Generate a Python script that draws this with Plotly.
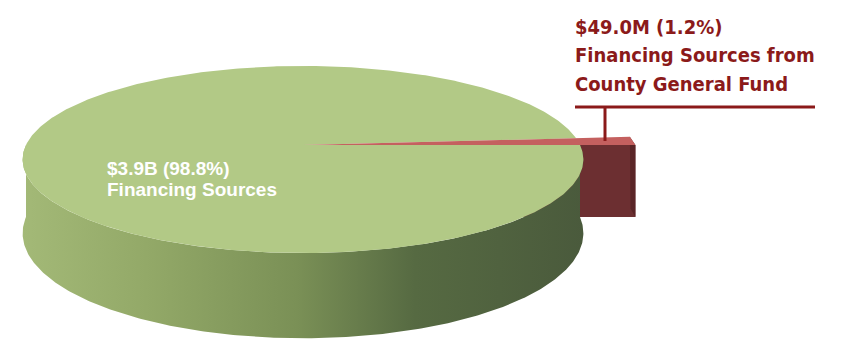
import numpy as np
import plotly.graph_objects as go

# ---------------- data ----------------
labels = ["Financing Sources", "Financing Sources from County General Fund"]
amounts = ["$3.9B", "$49.0M"]
shares = [98.8, 1.2]          # percent of total

# ---------------- geometry (pixel space, perspective 3D pie) ----------------
CX, CY = 303.0, 145.0   # projected pie centre
S, T, K = 277.0, 91.3, 0.155   # horizontal radius, vertical radius, perspective factor
DEPTH = 72.0
RED_SCALE = 1.2          # pulled-out slice radius factor


def proj(theta_deg, r=1.0, drop=0.0):
    th = np.radians(np.asarray(theta_deg, dtype=float))
    X = r * np.cos(th)
    Y = r * np.sin(th)
    w = 1 + K * Y
    return CX + S * X / w, CY - T * Y / w + drop / w


green_share, red_share = shares
a_red = red_share / 100.0 * 360.0      # red slice: 0 .. a_red degrees

fig = go.Figure()


def poly(xs, ys, color, **kw):
    fig.add_trace(go.Scatter(x=np.asarray(xs), y=np.asarray(ys), mode="lines", fill="toself",
                             fillcolor=color, line=dict(width=0, color=color),
                             hoverinfo="skip", showlegend=False, **kw))


# red slice: cut face at theta = 0 (front)
x0, y0 = proj(0, 0.0, 0)
x1, y1 = proj(0, RED_SCALE, 0)
x2, y2 = proj(0, RED_SCALE, DEPTH)
x3, y3 = proj(0, 0.0, DEPTH)
poly([x0, x1, x2, x3, x0], [y0, y1, y2, y3, y0], "#6c2f31")

# red slice outer wall
th = np.linspace(0, a_red, 30)
xt, yt = proj(th, RED_SCALE, 0)
xb, yb = proj(th[::-1], RED_SCALE, DEPTH)
poly(np.r_[xt, xb, xt[0]], np.r_[yt, yb, yt[0]], "#5a2527")

# green side wall (front half)
th = np.linspace(180, 360, 300)
xt, yt = proj(th, 1.0, 0)
xb, yb = proj(th[::-1], 1.0, DEPTH)
fig.add_trace(go.Scatter(
    x=np.r_[xt, xb, xt[0]], y=np.r_[yt, yb, yt[0]], mode="lines", fill="toself",
    fillgradient=dict(type="horizontal",
                      colorscale=[[0, "#a3b977"], [0.22, "#93a968"], [0.49, "#7a9056"],
                                  [0.7, "#566a42"], [1, "#4a5a3c"]]),
    line=dict(width=0), hoverinfo="skip", showlegend=False))

# green top face
th = np.linspace(a_red, 360, 500)
xt, yt = proj(th, 1.0, 0)
poly(np.r_[x0, xt, x0], np.r_[y0, yt, y0], "#b2c986")

# red top face
th = np.linspace(0, a_red, 30)
xt, yt = proj(th, RED_SCALE, 0)
poly(np.r_[x0, xt, x0], np.r_[y0, yt, y0], "#c4605f")

# leader line for small slice
RED_TXT = "#8b1a1a"
fig.add_shape(type="line", x0=575, x1=815, y0=107, y1=107, line=dict(color=RED_TXT, width=3))
fig.add_shape(type="line", x0=605, x1=605, y0=107, y1=141, line=dict(color=RED_TXT, width=3))

# labels
red_lines = [f"{amounts[1]} ({red_share:.1f}%)", "Financing Sources from", "County General Fund"]
for txt, yc in zip(red_lines, [27, 55, 84]):
    fig.add_annotation(x=573, y=yc, xref="x", yref="y", text=f"<b>{txt}</b>", showarrow=False,
                       xanchor="left", yanchor="middle",
                       font=dict(family="DejaVu Sans Condensed, Liberation Sans Narrow, Roboto Condensed, sans-serif",
                                 size=20, color=RED_TXT))

green_lines = [f"{amounts[0]} ({green_share:.1f}%)", labels[0]]
for txt, yc in zip(green_lines, [168, 189]):
    fig.add_annotation(x=105, y=yc, xref="x", yref="y", text=f"<b>{txt}</b>", showarrow=False,
                       xanchor="left", yanchor="middle",
                       font=dict(family="Liberation Sans, Arial, sans-serif", size=19, color="white"))

fig.update_layout(
    width=846, height=358, autosize=False,
    margin=dict(l=0, r=0, t=0, b=0),
    paper_bgcolor="white", plot_bgcolor="white",
    xaxis=dict(range=[0, 846], visible=False, fixedrange=True),
    yaxis=dict(range=[358, 0], visible=False, fixedrange=True),
    showlegend=False,
)

fig.write_html("out.html")
